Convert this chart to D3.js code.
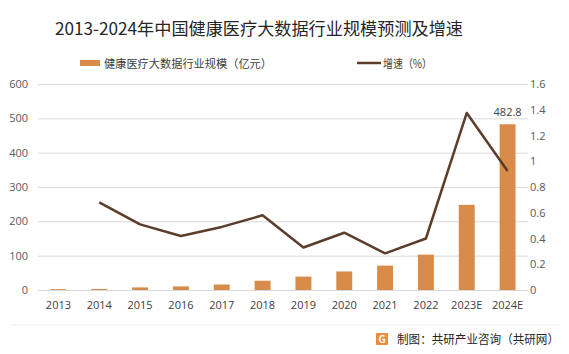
<!DOCTYPE html>
<html>
<head>
<meta charset="utf-8">
<script src="https://cdn.jsdelivr.net/npm/d3@7"></script>
<style>
  html, body { margin: 0; padding: 0; background: #fff; }
  svg { display: block; font-family: "Noto Sans CJK SC", "Noto Sans", sans-serif; }
</style>
</head>
<body>
<div id="chart"></div>
<script>
// chart values
const years  = ["2013", "2014", "2015", "2016", "2017", "2018", "2019", "2020", "2021", "2022", "2023E", "2024E"];
const scale  = [2.5, 3, 7.5, 10.5, 16, 27, 39, 54, 71, 103, 248, 482.8];
const growth = [null, 0.68, 0.51, 0.42, 0.49, 0.58, 0.33, 0.445, 0.285, 0.40, 1.375, 0.925];
const leftTicks  = [0, 100, 200, 300, 400, 500, 600];
const rightTicks = [0, 0.2, 0.4, 0.6, 0.8, 1, 1.2, 1.4, 1.6];

const BAR = "#d98b4a", LINE = "#5a3e2b", TXT = "#595959";

const fullW = 569, fullH = 354;
const plot = { left: 38, right: 528, top: 84, bottom: 290 };

const svg = d3.select("#chart").append("svg")
  .attr("width", fullW).attr("height", fullH);

const x  = d3.scaleBand().domain(years).range([plot.left, plot.right]).paddingInner(0.61).paddingOuter(0.305);
const xc = d3.scalePoint().domain(years).range([plot.left + 20.4, plot.right - 20.4]);
const yL = d3.scaleLinear().domain([0, 600]).range([plot.bottom, plot.top]);
const yR = d3.scaleLinear().domain([0, 1.6]).range([plot.bottom, plot.top]);

// title
svg.append("text")
  .attr("x", 259).attr("y", 35)
  .attr("text-anchor", "middle")
  .attr("textLength", 408).attr("lengthAdjust", "spacingAndGlyphs")
  .style("font-size", "17px").style("fill", "#262626")
  .text("2013-2024年中国健康医疗大数据行业规模预测及增速");

// legend
svg.append("rect").attr("x", 80).attr("y", 60).attr("width", 20).attr("height", 6).attr("fill", BAR);
svg.append("text").attr("x", 104).attr("y", 67.5)
  .attr("textLength", 168).attr("lengthAdjust", "spacingAndGlyphs")
  .style("font-size", "11.5px").style("fill", "#404040")
  .text("健康医疗大数据行业规模（亿元）");
svg.append("line").attr("x1", 357).attr("x2", 381).attr("y1", 63).attr("y2", 63)
  .attr("stroke", LINE).attr("stroke-width", 2.5);
svg.append("text").attr("x", 383).attr("y", 67.5)
  .attr("textLength", 49).attr("lengthAdjust", "spacingAndGlyphs")
  .style("font-size", "11.5px").style("fill", "#404040")
  .text("增速（%）");

// gridlines
svg.append("g")
  .attr("transform", `translate(${plot.left},0)`)
  .call(d3.axisRight(yL).tickValues(leftTicks).tickSize(plot.right - plot.left).tickFormat(""))
  .call(g => g.select(".domain").remove())
  .call(g => g.selectAll("line").attr("stroke", "#d9d9d9").attr("stroke-width", 1));

// left axis labels
svg.append("g")
  .attr("transform", `translate(${plot.left},0)`)
  .call(d3.axisLeft(yL).tickValues(leftTicks).tickSize(0).tickPadding(10))
  .call(g => g.select(".domain").remove())
  .call(g => g.selectAll("text").style("font-size", "11px").style("fill", TXT)
    .style("font-family", "'Open Sans', sans-serif"));

// right axis labels
svg.append("g")
  .attr("transform", `translate(${plot.right},0)`)
  .call(d3.axisRight(yR).tickValues(rightTicks).tickSize(0).tickPadding(2).tickFormat(d3.format("~g")))
  .call(g => g.select(".domain").remove())
  .call(g => g.selectAll("text").style("font-size", "11px").style("fill", TXT)
    .style("font-family", "'Open Sans', sans-serif"));

// x axis labels
svg.append("g")
  .attr("transform", `translate(0,${plot.bottom})`)
  .call(d3.axisBottom(x).tickSize(0).tickPadding(11))
  .call(g => g.select(".domain").remove())
  .call(g => g.selectAll("text").style("font-size", "11px").style("fill", "#404040")
    .style("font-family", "'Open Sans', sans-serif"));

// bars
svg.append("g").selectAll("rect")
  .data(years.map((d, i) => ({ year: d, value: scale[i] })))
  .join("rect")
  .attr("x", d => x(d.year))
  .attr("width", x.bandwidth())
  .attr("y", d => yL(d.value))
  .attr("height", d => yL(0) - yL(d.value))
  .attr("fill", BAR);

// value label on last bar
svg.append("text")
  .attr("x", x("2024E") + x.bandwidth() / 2)
  .attr("y", yL(482.8) - 8)
  .attr("text-anchor", "middle")
  .style("font-size", "11px").style("fill", "#404040")
  .style("font-family", "'Open Sans', sans-serif")
  .text("482.8");

// growth line
const lineData = years.map((d, i) => ({ year: d, value: growth[i] })).filter(d => d.value != null);
svg.append("path")
  .datum(lineData)
  .attr("fill", "none")
  .attr("stroke", LINE)
  .attr("stroke-width", 2.5)
  .attr("stroke-linejoin", "round")
  .attr("d", d3.line().x(d => xc(d.year)).y(d => yR(d.value)));

// footer
svg.append("line").attr("x1", 10).attr("x2", 560).attr("y1", 325).attr("y2", 325)
  .attr("stroke", "#f0f0f0");
const logo = svg.append("g").attr("transform", "translate(376,333)");
logo.append("rect").attr("width", 12).attr("height", 12).attr("rx", 1).attr("fill", "#f08a3c");
logo.append("text").attr("x", 6).attr("y", 10).attr("text-anchor", "middle")
  .style("font-size", "10px").style("font-weight", "bold").style("fill", "#fff").text("G");
svg.append("text").attr("x", 397).attr("y", 344)
  .attr("textLength", 162).attr("lengthAdjust", "spacingAndGlyphs")
  .style("font-size", "12px").style("fill", "#262626")
  .text("制图：共研产业咨询（共研网）");
</script>
</body>
</html>
